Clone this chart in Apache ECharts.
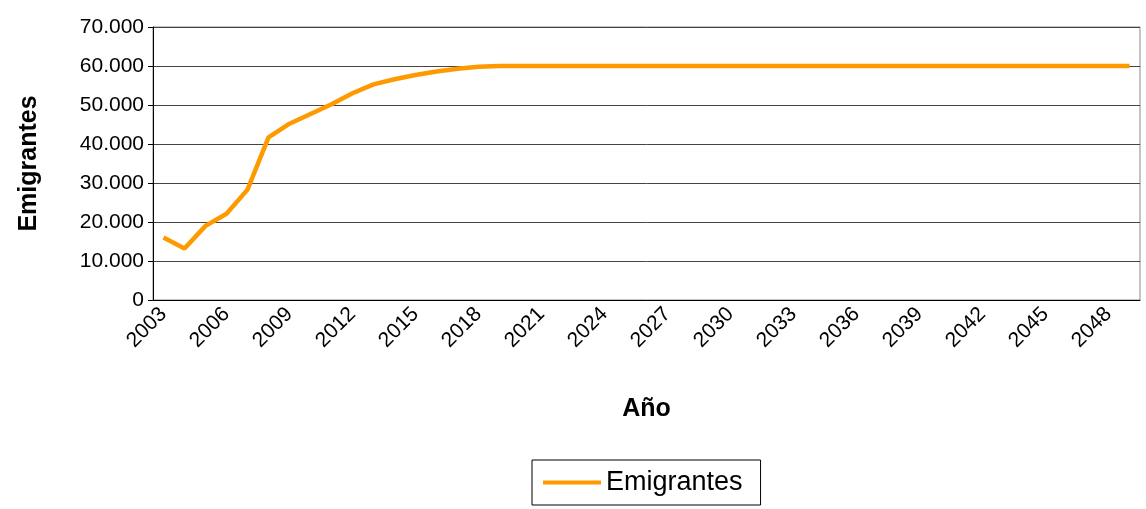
<!DOCTYPE html>
<html>
<head>
<meta charset="utf-8">
<script src="https://cdn.jsdelivr.net/npm/echarts@6/dist/echarts.min.js"></script>
<style>
  html, body { margin: 0; padding: 0; background: #fff; }
  #chart-container { width: 1146px; height: 509px; }
</style>
</head>
<body>
<div id="chart-container"></div>
<script>
// years 2003..2049
var years = [];
for (var y = 2003; y <= 2049; y++) {
  years.push(String(y));
}

var emigrantes = [
  16000, 13200, 19000, 22100, 28300, 41700, 45200, 47700, 50200, 53000,
  55300, 56600, 57700, 58600, 59300, 59800,
  60000, 60000, 60000, 60000, 60000, 60000, 60000, 60000, 60000, 60000,
  60000, 60000, 60000, 60000, 60000, 60000, 60000, 60000, 60000, 60000,
  60000, 60000, 60000, 60000, 60000, 60000, 60000, 60000, 60000, 60000,
  60000
];

var seriesName = "Emigrantes";
var xTitle = "Año";
var yTitle = "Emigrantes";

var dom = document.getElementById("chart-container");
var myChart = echarts.init(dom, null, { renderer: "canvas" });

var font = "Liberation Sans, Arial, sans-serif";

var option = {
  backgroundColor: "#fff",
  animation: false,
  grid: {
    left: 153,
    right: 6,
    top: 27,
    bottom: 209,
    show: true,
    borderColor: "#888",
    borderWidth: 1
  },
  legend: {
    data: [{ name: seriesName, icon: "rect" }],
    left: 532,
    top: 460,
    borderColor: "#000",
    borderWidth: 1,
    padding: [9, 18, 9, 11],
    itemWidth: 58,
    itemHeight: 4,
    itemStyle: { color: "#FF9900" },
    textStyle: { fontFamily: font, fontSize: 27, color: "#000" }
  },
  xAxis: {
    type: "category",
    data: years,
    boundaryGap: true,
    name: xTitle,
    nameLocation: "middle",
    nameGap: 97,
    nameTextStyle: { fontFamily: font, fontSize: 25, fontWeight: "bold", color: "#000" },
    axisLine: { lineStyle: { color: "#000", width: 1 } },
    axisTick: { interval: 0, length: 5, lineStyle: { color: "#000" } },
    axisLabel: {
      interval: 2,
      rotate: 45,
      margin: 11,
      fontFamily: font,
      fontSize: 21,
      color: "#000"
    },
    splitLine: { show: false }
  },
  yAxis: {
    type: "value",
    min: 0,
    max: 70000,
    interval: 10000,
    name: yTitle,
    nameLocation: "middle",
    nameGap: 111,
    nameTextStyle: { fontFamily: font, fontSize: 25, fontWeight: "bold", color: "#000" },
    axisLine: { show: true, lineStyle: { color: "#000", width: 1 } },
    axisTick: { show: true, length: 5, lineStyle: { color: "#000" } },
    axisLabel: {
      margin: 9,
      fontFamily: font,
      fontSize: 21,
      color: "#000",
      formatter: function (v) {
        return v === 0 ? "0" : String(v).replace(/\B(?=(\d{3})+(?!\d))/g, ".");
      }
    },
    splitLine: { show: true, lineStyle: { color: "#444", width: 1 } }
  },
  series: [
    {
      name: seriesName,
      type: "line",
      data: emigrantes,
      symbol: "none",
      showSymbol: false,
      lineStyle: { color: "#FF9900", width: 4.5 },
      itemStyle: { color: "#FF9900" }
    }
  ]
};

myChart.setOption(option);
window.addEventListener("resize", myChart.resize);
</script>
</body>
</html>
